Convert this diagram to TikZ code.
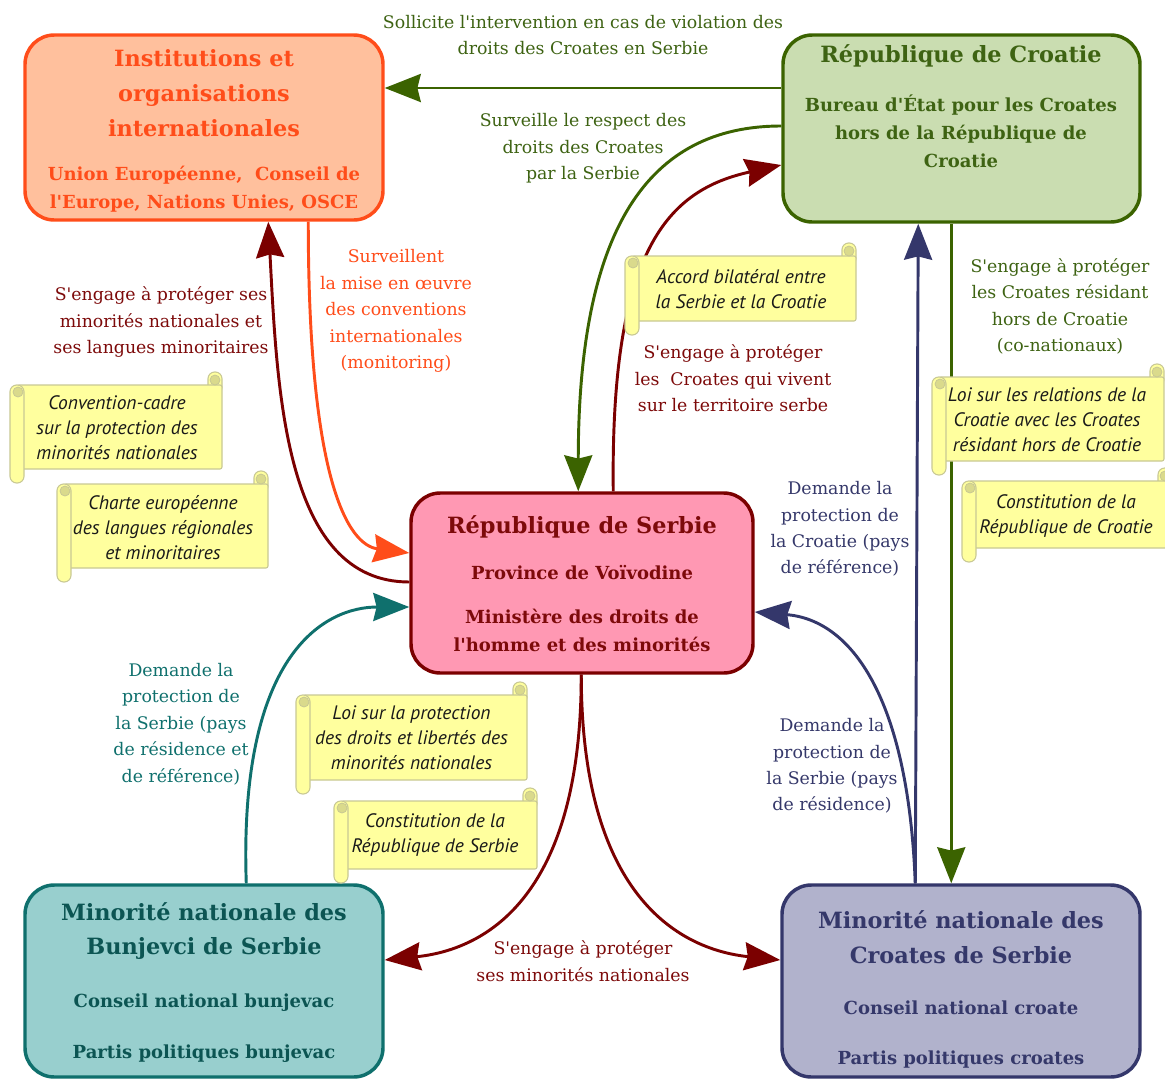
\documentclass[tikz,border=0pt]{standalone}
\usepackage{fontspec}
\setmainfont{DejaVu Serif}[Ligatures=TeXOff]
\newfontfamily\scrollfam{PT Sans}
\usetikzlibrary{arrows.meta,calc}
\definecolor{orL}{HTML}{FF4D1A}
\definecolor{orF}{HTML}{FFC09D}
\definecolor{grL}{HTML}{3B6300}
\definecolor{grF}{HTML}{CADDB1}
\definecolor{grT}{HTML}{3E6313}
\definecolor{rdL}{HTML}{7B0000}
\definecolor{rdF}{HTML}{FF98B3}
\definecolor{rdT}{HTML}{7D0A0A}
\definecolor{tlL}{HTML}{0F706D}
\definecolor{tlF}{HTML}{98CFCE}
\definecolor{tlT}{HTML}{0C5553}
\definecolor{slL}{HTML}{34376B}
\definecolor{slF}{HTML}{B1B2CC}
\definecolor{slT}{HTML}{35386A}
\definecolor{scF}{HTML}{FFFF9E}
\definecolor{scL}{HTML}{C8C894}
\definecolor{scC}{HTML}{DADA8C}
\newcommand\lblfont{\fontsize{13pt}{19.8pt}\selectfont}
\newcommand\ttlfont{\fontsize{16.8pt}{26pt}\selectfont\bfseries}
\newcommand\subfont{\fontsize{13.5pt}{21pt}\selectfont\bfseries}
\newcommand\scrfont{\scrollfam\itshape\fontsize{14.6pt}{18.75pt}\selectfont}
\newcommand\myscroll[4]{%
  \filldraw[scrollline, rounded corners=5pt] (#3-14,#2+22) rectangle (#3,#2);
  \filldraw[scrollline, rounded corners=1.5pt] (#1+7,#2+13) rectangle (#3,#4-14);
  \filldraw[scrollline, rounded corners=5pt] (#1,#2+13) rectangle (#1+14,#4);
  \filldraw[curl] (#1+8,#2+20) circle[radius=5];
  \filldraw[curl] (#3-7,#2+8) circle[radius=5];
}
\begin{document}
\begin{tikzpicture}[x=0.75pt,y=-0.75pt,
  box/.style={rounded corners=22pt, line width=2.6pt, inner sep=0pt},
  conn/.style={line width=2.2pt, -{Stealth[length=27pt,width=21pt,inset=2.5pt]}},
  lbl/.style={font=\lblfont, align=center, inner sep=0pt},
  ttl/.style={font=\ttlfont, align=center, inner sep=0pt},
  sub/.style={font=\subfont, align=center, inner sep=0pt},
  scrtxt/.style={font=\scrfont, align=center, inner sep=0pt, text=black!90},
  scrollline/.style={fill=scF, draw=scL, line width=0.8pt},
  curl/.style={fill=scC, draw=scL, line width=0.6pt}]
\useasboundingbox (0,0) rectangle (1165,1079);
\fill[white] (0,0) rectangle (1165,1079);

% boxes
\node[box, draw=orL, fill=orF, minimum width=268.5pt, minimum height=138.75pt] (inst) at (204,127.5) {};
\node[box, draw=grL, fill=grF, minimum width=267.75pt, minimum height=140.25pt] (cro) at (961.5,128.5) {};
\node[box, draw=rdL, fill=rdF, minimum width=256.5pt, minimum height=135pt] (ser) at (582,583) {};
\node[box, draw=tlL, fill=tlF, minimum width=268.5pt, minimum height=144pt] (bun) at (204,981) {};
\node[box, draw=slL, fill=slF, minimum width=268.5pt, minimum height=144pt] (crs) at (961,981) {};

% box texts
\node[ttl, text=orL] (instT) at (204,93) {Institutions et\\organisations\\internationales};
\node[sub, text=orL] (instS) at (204,189) {Union Européenne,\ \ Conseil de\\l'Europe, Nations Unies, OSCE};
\node[ttl, text=grT] (croT) at (961,56) {République de Croatie};
\node[sub, text=grT] (croS) at (961,131) {Bureau d'État pour les Croates\\hors de la République de\\Croatie};
\node[ttl, text=rdT] (serT) at (582,527) {République de Serbie};
\node[sub, text=rdT] (serS1) at (582,573) {Province de Voïvodine};
\node[sub, text=rdT] (serS2) at (582,630) {Ministère des droits de\\l'homme et des minorités};
\node[ttl, text=tlT] (bunT) at (204,931) {Minorité nationale des\\Bunjevci de Serbie};
\node[sub, text=tlT] (bunS1) at (204,1003) {Conseil national bunjevac};
\node[sub, text=tlT] (bunS2) at (204,1054) {Partis politiques bunjevac};
\node[ttl, text=slT] (crsT) at (961,937) {Minorité nationale des\\Croates de Serbie};
\node[sub, text=slT] (crsS1) at (961,1008) {Conseil national croate};
\node[sub, text=slT] (crsS2) at (961,1060) {Partis politiques croates};

% connectors
\draw[conn, grL] ($(cro.west)+(0,-40.5)$) -- ($(inst.east)+(0,-39.5)$);
\draw[conn, grL] ($(cro.west)+(0,-2.5)$) .. controls +(-133,0) and +(0,-263) .. ($(ser.north west)+(169,0)$);
\draw[conn, rdL] ($(ser.north west)+(204,0)$) .. controls +(-3,-243) and +(-113,25) .. ($(cro.west)+(0,36.5)$);
\draw[conn, rdL] ($(ser.west)+(0,-1)$) .. controls +(-125,0) and +(9,170) .. ($(inst.south west)+(245,0)$);
\draw[conn, orL] ($(inst.south west)+(285,0)$) .. controls +(0,260) and +(-61,-8) .. ($(ser.west)+(0,-30)$);
\draw[conn, tlL] ($(bun.north west)+(223,0)$) .. controls +(-8,-235) and +(-81,0) .. ($(ser.west)+(0,24)$);
\draw[conn, rdL] ($(ser.south west)+(172,0)$) .. controls +(0,227) and +(97,-10) .. ($(bun.east)+(0,-21)$);
\draw[conn, rdL] ($(ser.south west)+(172,0)$) .. controls +(0,227) and +(-96,-10) .. ($(crs.west)+(0,-21)$);
\draw[conn, slL] ($(crs.north west)+(135,0)$) .. controls +(-7,-185) and +(97,8) .. ($(ser.east)+(0,29)$);
\draw[conn, slL] ($(crs.north west)+(135,0)$) -- ($(cro.south west)+(137,0)$);
\draw[conn, grL] ($(cro.south west)+(170,0)$) -- ($(crs.north west)+(171,0)$);

% scrolls
\myscroll{10}{372}{222}{483}
\node[scrtxt] (sc1) at (117,428) {Convention-cadre\\sur la protection des\\minorités nationales};
\myscroll{57}{471}{268}{582}
\node[scrtxt] (sc2) at (163,527.5) {Charte européenne\\des langues régionales\\et minoritaires};
\myscroll{625}{243}{856}{335}
\node[scrtxt] (sc3) at (741,289.5) {Accord bilatéral entre\\la Serbie et la Croatie};
\myscroll{932}{364}{1164}{475}
\node[scrtxt] (sc4) at (1047,420) {Loi sur les relations de la\\Croatie avec les Croates\\résidant hors de Croatie};
\myscroll{962}{468}{1172}{562}
\node[scrtxt] (sc5) at (1066,516.5) {Constitution de la\\République de Croatie};
\myscroll{296}{682}{527}{794}
\node[scrtxt] (sc6) at (411.5,738) {Loi sur la protection\\des droits et libertés des\\minorités nationales};
\myscroll{334}{788}{537}{883}
\node[scrtxt] (sc7) at (435,835.5) {Constitution de la\\République de Serbie};

% labels
\node[lbl, text=grT] (l1) at (583,35) {Sollicite l'intervention en cas de violation des\\droits des Croates en Serbie};
\node[lbl, text=grT] (l2) at (583,148.5) {Surveille le respect des\\droits des Croates\\par la Serbie};
\node[lbl, text=rdT] (l3) at (733,378.5) {S'engage à protéger\\les\ \ Croates qui vivent\\sur le territoire serbe};
\node[lbl, text=rdT] (l4) at (161,322) {S'engage à protéger ses\\minorités nationales et\\ses langues minoritaires};
\node[lbl, text=orL] (l5) at (396,311) {Surveillent\\la mise en œuvre\\des conventions\\internationales\\(monitoring)};
\node[lbl, text=tlL] (l6) at (181,724) {Demande la\\protection de\\la Serbie (pays\\de résidence et\\de référence)};
\node[lbl, text=rdT] (l7) at (583,961) {S'engage à protéger\\ses minorités nationales};
\node[lbl, text=slT] (l8) at (832,766) {Demande la\\protection de\\la Serbie (pays\\de résidence)};
\node[lbl, text=slT] (l9) at (840,529) {Demande la\\protection de\\la Croatie (pays\\de référence)};
\node[lbl, text=grT] (l10) at (1060,306.5) {S'engage à protéger\\les Croates résidant\\hors de Croatie\\(co-nationaux)};
\end{tikzpicture}
\end{document}
